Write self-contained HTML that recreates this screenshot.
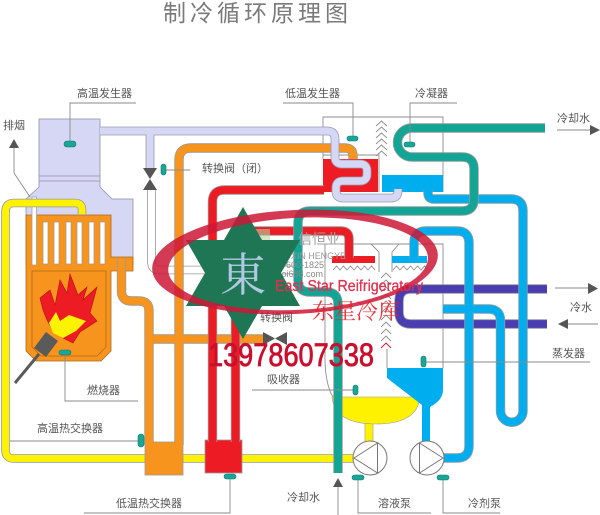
<!DOCTYPE html>
<html><head><meta charset="utf-8">
<style>
html,body{margin:0;padding:0;background:#fff;width:600px;height:515px;overflow:hidden}
svg{display:block}
.l{font-family:"Liberation Sans","Noto Sans CJK SC",sans-serif;font-size:11px;fill:#555}
</style></head><body>
<svg width="600" height="515" viewBox="0 0 600 515" xmlns="http://www.w3.org/2000/svg">
<defs>
<path id="pLav" d="M100,131 H327 Q335,131 335,139 V157 Q335,164 342,164 H360 Q367,164 367,171 V174 Q367,181 360,181 H343 Q336,181 336,188 V191 Q336,198 343,198 H391 Q398,198 398,191 V189"/>
<path id="pLavV" d="M150,131 V168"/>
<path id="pWh" d="M151.5,190 V262 Q151.5,270 159.5,270 H300"/>
<path id="pOr1" d="M353,160 V156 Q353,148 345,148 H191 Q179,148 179,160 V445"/>
<path id="pOr2" d="M121.5,258 V291 Q121.5,301 131.5,301 H139 Q149,301 149,311 V445"/>
<path id="pOr3" d="M149,339 H264"/>
<path id="pR1" d="M324,190 H224.5 Q212.5,190 212.5,202 V442"/>
<path id="pR2" d="M235.5,442 V243 Q235.5,231 247.5,231 H341 Q349,231 349,239 V258"/>
<path id="pY" d="M82,214 V210 Q82,203 75,203 H14 Q5.5,203 5.5,212 V450 Q5.5,458.5 14,458.5 H354"/>
<path id="pP" d="M547,289 H411 Q399,289 399,301 V312 Q399,324 411,324 H547"/>
<path id="pB1" d="M428,190 V193 Q428,199 434,199 H511 Q523,199 523,211 V411 A11.25,11.25 0 0 1 500.5,411 V321 Q500.5,309 488.5,309 H443"/>
<path id="pB2" d="M443,458 H457 Q469,458 469,446 V243 Q469,231 457,231 H426 Q414,231 414,243 V258"/>
<path id="pT" d="M545,128 H412 A14.5,14.5 0 0 0 412,157 H462 Q474,157 474,169 V199 Q474,211 462,211 H310 Q298,211 298,223 V280 Q298,292 310,292 H326 Q338,292 338,304 V473"/>
</defs>

<!-- Title -->
<text x="163" y="21" font-size="23" letter-spacing="4" fill="#7a7a7a" font-family="Liberation Sans, Noto Sans CJK SC, sans-serif">制冷循环原理图</text>

<!-- gray boxes -->
<g stroke="#8d8d8d" stroke-width="0.9" fill="none">
<path d="M323,159 V117 H443 V192"/>
<path d="M323,155 H379 V192"/>
<path d="M325,362 V244 H443 V368"/>
<path d="M325,362 Q326,386 333,397"/>
<path d="M371,244 L379,252 V272"/>
<path d="M399,244 L392,252 V272"/>
<path d="M387,349 V368"/>
</g>
<g stroke="#8d8d8d" stroke-width="0.9" fill="none">
<polyline points="376,126 381.5,121 387,126"/>
<polyline points="376,132 381.5,127 387,132"/>
<polyline points="376,138 381.5,133 387,138"/>
<polyline points="376,144 381.5,139 387,144"/>
<polyline points="376,150 381.5,145 387,150"/>
<polyline points="376,156 381.5,151 387,156"/>
<polyline points="381,278 386,273 391,278"/>
<polyline points="381,285 386,280 391,285"/>
<polyline points="381,292 386,287 391,292"/>
<polyline points="381,299 386,294 391,299"/>
<polyline points="381,306 386,301 391,306"/>
<polyline points="381,313 386,308 391,313"/>
<polyline points="381,320 386,315 391,320"/>
<polyline points="381,327 386,322 391,327"/>
<polyline points="381,334 386,329 391,334"/>
<polyline points="381,341 386,336 391,341"/>
<polyline points="381,348 386,343 391,348" stroke="#c8102e"/>
<polyline points="333,270 336.5,266 340,270 343.5,266 347,270 350.5,266 354,270 357.5,266 361,270 364.5,266 368,270 371.5,266 375,270"/>
<polyline points="393,270 396.5,266 400,270 403.5,266 407,270 410.5,266 414,270 417.5,266 421,270 424.5,266 428,270"/>
</g>

<!-- boiler -->
<path d="M39,119 H100 V187 L112,199 H133 V265 H26 V199 L39,187 Z" fill="#d6d6f5" stroke="#8f8fa8" stroke-width="0.8"/>
<line x1="39" y1="176" x2="100" y2="176" stroke="#8f8fa8" stroke-width="0.8"/>
<line x1="39" y1="181" x2="100" y2="181" stroke="#8f8fa8" stroke-width="0.8"/>
<path d="M26,215 H111 V257 H133 V271 H111 V351 L101,361 H36 L26,351 Z" fill="#f7941d" stroke="#a86a20" stroke-width="0.8"/>
<path d="M32,271 H106 V347 L97,356 H41 L32,347 Z" fill="none" stroke="#b06a1c" stroke-width="0.8"/>
<g fill="#fff" stroke="#999" stroke-width="0.7">
<rect x="32" y="197" width="4.5" height="68"/>
<rect x="43" y="222" width="5" height="42"/>
<rect x="54" y="222" width="5" height="42"/>
<rect x="66" y="222" width="5" height="42"/>
<rect x="77" y="222" width="5" height="42"/>
<rect x="89" y="222" width="5" height="42"/>
<rect x="100" y="222" width="5" height="42"/>
</g>
<polygon points="40,298 50,290 55,305 60,280 67,293 70,274 78,295 87,287 83,300 97,287 90,313 97,321 80,332 73,343 63,338 53,331 47,320 43,310" fill="#ed1c24" stroke="#b01010" stroke-width="0.6"/>
<polygon points="49,323 56,312 60,321 69,315 86,321 76,331 63,338 53,333" fill="#fff200"/>
<polygon points="34,348 46,332 58,341 46,357" fill="#5a5a5a"/>
<line x1="39" y1="354" x2="15" y2="383" stroke="#5a5a5a" stroke-width="3"/>

<g fill="none" stroke-linejoin="round">
<use href="#pY" stroke="#999" stroke-width="8.6"/>
<use href="#pY" stroke="#fff200" stroke-width="7"/>
<use href="#pWh" stroke="#999" stroke-width="8.6"/>
<use href="#pWh" stroke="#fff" stroke-width="7"/>
<use href="#pOr1" stroke="#999" stroke-width="9.4"/>
<use href="#pOr2" stroke="#999" stroke-width="9.4"/>
<use href="#pOr3" stroke="#999" stroke-width="9.4"/>
</g>
<rect x="145" y="442" width="38" height="33" fill="#f7941d" stroke="#999" stroke-width="0.8"/>
<g fill="none" stroke-linejoin="round">
<use href="#pOr1" stroke="#f7941d" stroke-width="7.8"/>
<use href="#pOr2" stroke="#f7941d" stroke-width="7.8"/>
<use href="#pOr3" stroke="#f7941d" stroke-width="7.8"/>
</g>
<polygon points="263,332 263,345 275,338.5" fill="#555"/>
<polygon points="287,332 287,345 275,338.5" fill="#555"/>

<!-- red -->
<rect x="205" y="440" width="37" height="33" fill="#ed1c24" stroke="#999" stroke-width="0.8"/>
<rect x="323" y="159" width="55" height="33" fill="#ed1c24"/>
<rect x="332" y="256" width="43" height="7" fill="#ed1c24"/>
<g fill="none" stroke-linejoin="round">
<use href="#pR1" stroke="#999" stroke-width="9.4"/>
<use href="#pR2" stroke="#999" stroke-width="9.4"/>
<use href="#pR1" stroke="#ed1c24" stroke-width="7.8"/>
<use href="#pR2" stroke="#ed1c24" stroke-width="7.8"/>
</g>

<rect x="382" y="175" width="61" height="17" fill="#00aeef"/>

<!-- lavender -->
<g fill="none" stroke-linejoin="round">
<use href="#pLavV" stroke="#9a9ab0" stroke-width="8.8"/>
<use href="#pLav" stroke="#9a9ab0" stroke-width="8.8"/>
<use href="#pLavV" stroke="#d6d6f5" stroke-width="7.2"/>
<use href="#pLav" stroke="#d6d6f5" stroke-width="7.2"/>
</g>
<polygon points="143,168 157,168 150,179" fill="#555"/>
<polygon points="143,190 157,190 150,179" fill="#555"/>

<!-- yellow bowl -->
<rect x="365" y="418" width="8" height="24" fill="#fff200" stroke="#999" stroke-width="0.6"/>
<path d="M332,397 H420 C418,418 398,424 376,424 C354,424 334,418 332,397 Z" fill="#fff200" stroke="#999" stroke-width="0.6"/>
<path d="M387,368 H443 V390 Q443,400 430,407 V442 H422 V405 L387,378 Z" fill="#00aeef"/>
<rect x="392" y="256" width="35" height="7" fill="#00aeef"/>

<g fill="none" stroke-linejoin="round">
<use href="#pP" stroke="#999" stroke-width="9.4"/>
<use href="#pP" stroke="#4a3db2" stroke-width="7.8"/>
<use href="#pB1" stroke="#999" stroke-width="9.4"/>
<use href="#pB2" stroke="#999" stroke-width="9.4"/>
<use href="#pB1" stroke="#00aeef" stroke-width="7.8"/>
<use href="#pB2" stroke="#00aeef" stroke-width="7.8"/>
<use href="#pT" stroke="#999" stroke-width="9.4"/>
<use href="#pT" stroke="#12a596" stroke-width="7.8"/>
</g>

<!-- pumps -->
<circle cx="370" cy="458" r="17" fill="#fff" stroke="#777" stroke-width="1"/>
<polygon points="354,458 377.5,443 377.5,473" fill="#fff" stroke="#777" stroke-width="1"/>
<circle cx="427" cy="458" r="17" fill="#fff" stroke="#777" stroke-width="1"/>
<polygon points="443,458 419.5,443 419.5,473" fill="#fff" stroke="#777" stroke-width="1"/>

<!-- label lines -->
<g stroke="#8a8a8a" stroke-width="0.9" fill="none">
<polyline points="70,143 70,103 136,103"/>
<polyline points="14,148 14,173 30,197"/>
<line x1="166" y1="170" x2="190" y2="170"/>
<polyline points="283,103 353,103 353,137"/>
<polyline points="457,103 410,103 410,143"/>
<line x1="557" y1="130" x2="591" y2="130"/>
<line x1="555" y1="288" x2="589" y2="288"/>
<line x1="567" y1="324" x2="598" y2="324"/>
<line x1="426" y1="362" x2="590" y2="362"/>
<line x1="252" y1="390" x2="355" y2="390"/>
<polyline points="65,355 65,401 138,401"/>
<line x1="10" y1="441" x2="139" y2="441"/>
<polyline points="84,513 230,513 230,478"/>
<polyline points="358,479 358,513 431,513"/>
<polyline points="443,479 443,513 500,513"/>
<line x1="338" y1="487" x2="338" y2="515"/>
</g>
<g fill="#555">
<polygon points="9,148 19,148 14,139"/>
<polygon points="590,125 590,135 600,130"/>
<polygon points="588,283 588,294 598,288.5"/>
<polygon points="558,324 568,319 568,329"/>
<polygon points="333,487 343,487 338,478"/>
</g>

<g fill="#1ba597" stroke="#0b7c70" stroke-width="0.6">
<rect x="64" y="141" width="12" height="6" rx="3"/>
<rect x="161" y="164" width="5" height="11" rx="2.5"/>
<rect x="347" y="136" width="11" height="5" rx="2.5"/>
<rect x="404" y="142" width="11" height="5" rx="2.5"/>
<rect x="421" y="356" width="5" height="11" rx="2.5"/>
<rect x="353" y="385" width="5" height="10" rx="2.5"/>
<rect x="59" y="350" width="12" height="5" rx="2.5"/>
<rect x="138" y="434" width="6" height="13" rx="3"/>
<rect x="224" y="474" width="12" height="5" rx="2.5"/>
<rect x="352" y="475" width="12" height="5" rx="2.5"/>
<rect x="437" y="475" width="12" height="5" rx="2.5"/>
</g>

<text class="l" x="77" y="97">高温发生器</text>
<text class="l" x="3" y="129">排烟</text>
<text class="l" x="202" y="172">转换阀（闭）</text>
<text class="l" x="285" y="97">低温发生器</text>
<text class="l" x="415" y="97">冷凝器</text>
<text class="l" x="557" y="122">冷却水</text>
<text class="l" x="570" y="311">冷水</text>
<text class="l" x="552" y="357">蒸发器</text>
<text class="l" x="267" y="383">吸收器</text>
<text class="l" x="87" y="394">燃烧器</text>
<text class="l" x="37" y="432">高温热交换器</text>
<text class="l" x="116" y="507">低温热交换器</text>
<text class="l" x="287" y="501">冷却水</text>
<text class="l" x="378" y="507">溶液泵</text>
<text class="l" x="468" y="507">冷剂泵</text>
<text class="l" x="260" y="321">转换阀</text>

<!-- watermark -->
<rect x="248" y="229" width="22" height="14" fill="#b5d6a0" opacity="0.6"/>
<text x="298" y="244" font-size="14" fill="#a0a0a0" font-family="Liberation Sans, Noto Sans CJK SC, sans-serif">信恒业</text>
<text x="278" y="259" font-size="9" fill="#999" font-family="Liberation Sans, sans-serif" textLength="68" lengthAdjust="spacingAndGlyphs">AOXIN HENGYE</text>
<text x="268" y="268" font-size="9" fill="#888" font-family="Liberation Sans, sans-serif">400-600-1825</text>
<text x="272" y="277" font-size="9" fill="#888" font-family="Liberation Sans, sans-serif">tiaoi688.com</text>

<polygon points="243,207 262,240 300,240 281,273 300,306 262,306 243,339 224,306 186,306 205,273 186,240 224,240" fill="#1e7654"/>
<text x="243" y="291" font-size="46" text-anchor="middle" fill="#b0c8e2" font-family="Noto Serif CJK SC, Noto Sans CJK SC, serif">東</text>

<path transform="rotate(-3 295 262)" fill-rule="evenodd" fill="#cc1836" opacity="0.85" d="M152,262 a143,52 0 1,0 286,0 a143,52 0 1,0 -286,0 Z M168,264 a130,46 0 1,0 260,0 a130,46 0 1,0 -260,0 Z"/>

<text x="275" y="291" font-size="16" fill="#e0304f" stroke="#e0304f" stroke-width="0.3" font-family="Liberation Sans, sans-serif" textLength="148" lengthAdjust="spacingAndGlyphs">East Star Reifrigeratory</text>
<text x="312" y="319" font-size="22" fill="#e8202a" opacity="0.9" font-family="Liberation Sans, Noto Serif CJK SC, serif">东星冷库</text>
<text x="208" y="366" font-size="32" fill="#c8102e" stroke="#c8102e" stroke-width="0.8" font-family="Liberation Sans, sans-serif" textLength="166" lengthAdjust="spacingAndGlyphs">13978607338</text>
</svg>
</body></html>
